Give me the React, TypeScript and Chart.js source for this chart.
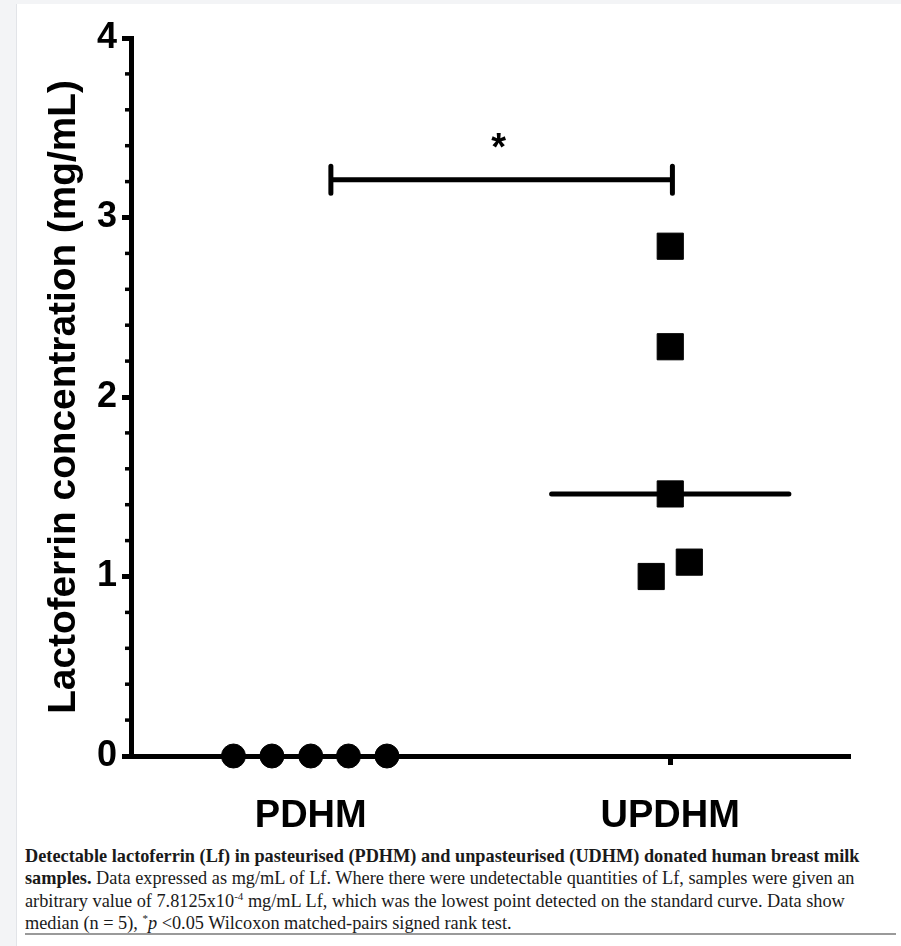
import React, { useEffect, useRef } from "react";
import { Chart, registerables } from "chart.js";

Chart.register(...registerables);

// ---------- data ----------
const categories = ["PDHM", "UPDHM"];
const categoryPositions = [1, 2];
const pdhmValues = [0, 0, 0, 0, 0];
const pdhmJitter = [-0.215, -0.108, 0, 0.105, 0.212];
const updhmValues = [2.84, 2.28, 1.46, 1.08, 1.0];
const updhmJitter = [0, 0, 0, 0.053, -0.053];
const pdhmMedian = 0;
const updhmMedian = 1.46;
const yTicks = [0, 1, 2, 3, 4];
const yTitle = "Lactoferrin concentration (mg/mL)";
const significanceLabel = "*";
const bracketY = 3.21;
const bracketFrom = 1.056;
const bracketTo = 2.006;

// ---------- style constants ----------
const MEDIAN_HALF = 0.33;
const CAP = 0.075;
const MINOR_STEP = 0.2;
const AXIS_FONT = "'Liberation Sans', Arial, sans-serif";

const minorTickPlugin = {
  id: "minorTicks",
  afterDraw(chart: any) {
    const y = chart.scales.y;
    const ctx = chart.ctx;
    ctx.save();
    ctx.strokeStyle = "#000";
    ctx.lineWidth = 3.5;
    const n = Math.round((y.max - y.min) / MINOR_STEP);
    for (let k = 1; k < n; k++) {
      const v = y.min + k * MINOR_STEP;
      if (Math.abs(v - Math.round(v)) < 1e-6) continue;
      const py = y.getPixelForValue(v);
      ctx.beginPath();
      ctx.moveTo(y.right - 6, py);
      ctx.lineTo(y.right, py);
      ctx.stroke();
    }
    ctx.restore();
  },
};

const starPlugin = {
  id: "sigStar",
  afterDatasetsDraw(chart: any) {
    const { x, y } = chart.scales;
    const ctx = chart.ctx;
    ctx.save();
    ctx.fillStyle = "#000";
    ctx.font = `bold 38px ${AXIS_FONT}`;
    ctx.textAlign = "center";
    ctx.textBaseline = "alphabetic";
    const px = x.getPixelForValue((bracketFrom + bracketTo) / 2);
    const py = y.getPixelForValue(bracketY);
    ctx.fillText(significanceLabel, px - 3, py - 20);
    ctx.restore();
  },
};

export default function App() {
  const ref = useRef<HTMLCanvasElement | null>(null);

  useEffect(() => {
    if (!ref.current) return;
    const line = (data: any[], width = 5) => ({
      type: "scatter",
      data,
      showLine: true,
      borderColor: "#000",
      borderWidth: width,
      borderCapStyle: "round",
      pointRadius: 0,
      spanGaps: false,
      clip: false,
    });
    const chart = new Chart(ref.current, {
      type: "scatter",
      data: {
        datasets: [
          {
            label: "UPDHM",
            data: updhmValues.map((v, i) => ({ x: categoryPositions[1] + updhmJitter[i], y: v })),
            pointStyle: "rect",
            pointRadius: 18.5,
            pointBackgroundColor: "#000",
            pointBorderColor: "#000",
            pointBorderWidth: 1,
            clip: false,
          } as any,
          {
            label: "PDHM",
            data: pdhmValues.map((v, i) => ({ x: categoryPositions[0] + pdhmJitter[i], y: v })),
            pointStyle: "circle",
            pointRadius: 12,
            pointBackgroundColor: "#000",
            pointBorderColor: "#000",
            pointBorderWidth: 1,
            clip: false,
          } as any,
          line([
            { x: categoryPositions[1] - MEDIAN_HALF, y: updhmMedian },
            { x: categoryPositions[1] + MEDIAN_HALF, y: updhmMedian },
          ]) as any,
          line([
            { x: categoryPositions[0] - MEDIAN_HALF, y: pdhmMedian },
            { x: categoryPositions[0] + MEDIAN_HALF, y: pdhmMedian },
          ], 4) as any,
          line([
            { x: bracketFrom, y: bracketY + CAP },
            { x: bracketFrom, y: bracketY - CAP },
            { x: bracketFrom, y: null },
            { x: bracketFrom, y: bracketY },
            { x: bracketTo, y: bracketY },
            { x: bracketTo, y: null },
            { x: bracketTo, y: bracketY + CAP },
            { x: bracketTo, y: bracketY - CAP },
          ]) as any,
        ],
      },
      options: {
        animation: false,
        responsive: false,
        events: [],
        layout: { padding: { left: 0, top: 38, right: 51, bottom: 0 } },
        plugins: { legend: { display: false }, tooltip: { enabled: false } },
        scales: {
          x: {
            type: "linear",
            min: 0.5,
            max: 2.5,
            afterFit: (s: any) => {
              s.height = 89;
            },
            afterBuildTicks: (s: any) => {
              s.ticks = categoryPositions.map((v) => ({ value: v }));
            },
            ticks: {
              autoSkip: false,
              maxRotation: 0,
              padding: 29,
              color: "#000",
              font: { family: AXIS_FONT, size: 38, weight: "bold" },
              callback: (_v: any, i: number) => categories[i],
            },
            grid: { drawOnChartArea: false, drawTicks: true, tickLength: 9, tickWidth: 5, color: "#000" },
            border: { display: true, color: "#000", width: 5 },
          },
          y: {
            type: "linear",
            min: 0,
            max: 4,
            afterFit: (s: any) => {
              s.width = 131;
            },
            afterBuildTicks: (s: any) => {
              s.ticks = yTicks.map((v) => ({ value: v }));
            },
            ticks: {
              padding: 5,
              color: "#000",
              font: { family: AXIS_FONT, size: 36, weight: "bold" },
            },
            grid: { drawOnChartArea: false, drawTicks: true, tickLength: 9, tickWidth: 5, color: "#000" },
            border: { display: true, color: "#000", width: 5 },
            title: {
              display: true,
              text: yTitle,
              color: "#000",
              font: { family: AXIS_FONT, size: 38.8, weight: "bold" },
              padding: { top: 41, bottom: 0 },
            },
          },
        },
      } as any,
      plugins: [minorTickPlugin, starPlugin],
    });
    return () => chart.destroy();
  }, []);

  return (
    <div
      style={{
        position: "absolute",
        left: 0,
        top: 0,
        width: 901,
        height: 946,
        background: "#f3f4f6",
        overflow: "hidden",
      }}
    >
      <div
        style={{
          position: "absolute",
          left: 16,
          top: 4,
          right: 0,
          bottom: 0,
          background: "#fff",
          borderLeft: "1px solid #e2e4e8",
        }}
      />
      <canvas
        ref={ref}
        width={901}
        height={845}
        style={{ position: "absolute", left: 0, top: 0, width: 901, height: 845 }}
      />
      <div
        style={{
          position: "absolute",
          left: 25,
          top: 845,
          fontFamily: "'Liberation Serif', 'Times New Roman', serif",
          fontSize: 18.3,
          lineHeight: "22.3px",
          color: "#1a1a1a",
          whiteSpace: "nowrap",
        }}
      >
        <b>Detectable lactoferrin (Lf) in pasteurised (PDHM) and unpasteurised (UDHM) donated human breast milk</b>
        <br />
        <b>samples.</b> Data expressed as mg/mL of Lf. Where there were undetectable quantities of Lf, samples were given an
        <br />
        arbitrary value of 7.8125x10
        <sup style={{ fontSize: 11, lineHeight: 0 }}>-4</sup> mg/mL Lf, which was the lowest point detected on the standard curve. Data show
        <br />
        median (n = 5), <sup style={{ fontSize: 11, lineHeight: 0 }}>*</sup>
        <i>p</i> &lt;0.05 Wilcoxon matched-pairs signed rank test.
      </div>
      <div
        style={{
          position: "absolute",
          left: 25,
          top: 933,
          width: 871,
          height: 2,
          background: "#9a9a9a",
        }}
      />
    </div>
  );
}
